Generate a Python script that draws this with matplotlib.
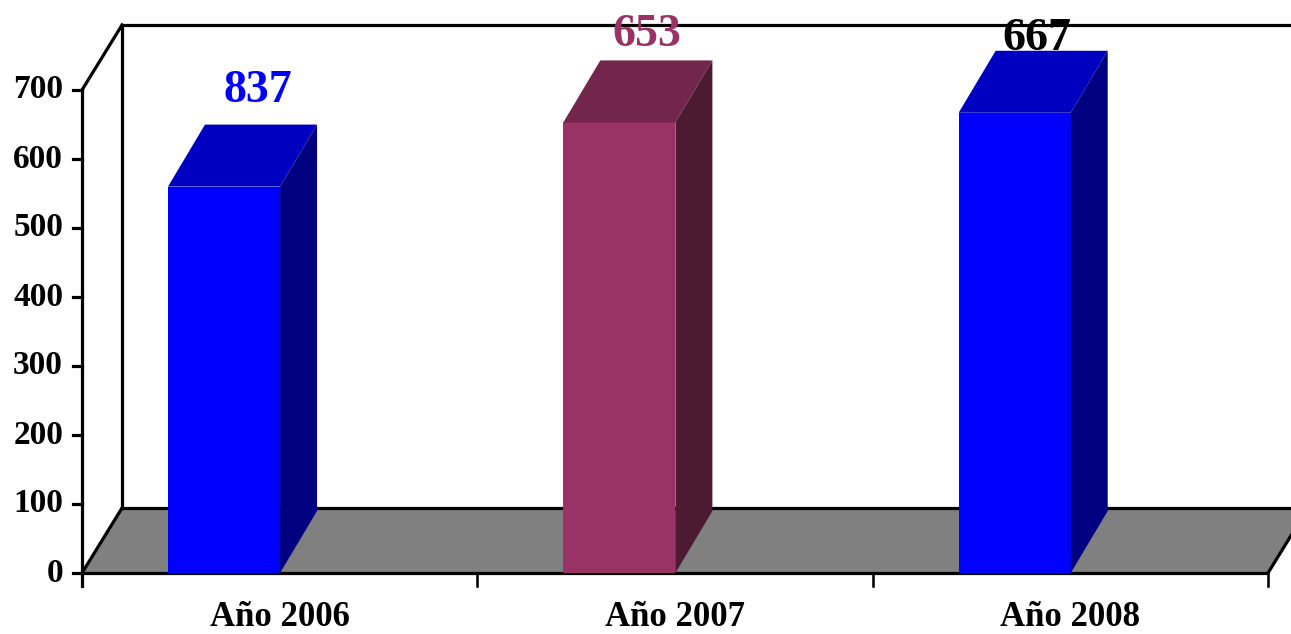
import matplotlib
matplotlib.use("Agg")
import matplotlib.pyplot as plt
from matplotlib.patches import Polygon

# ---- data ----
categories = ["Año 2006", "Año 2007", "Año 2008"]
values = [560, 653, 667]
value_labels = ["837", "653", "667"]
yticks = [0, 100, 200, 300, 400, 500, 600, 700]

# ---- styles ----
front_colors = ["#0000FF", "#993366", "#0000FF"]
top_colors = ["#0000C0", "#72264C", "#0000C0"]
side_colors = ["#000080", "#4C1A33", "#000080"]
label_colors = ["#0000FF", "#993366", "#000000"]
label_dx = [0.445, 0.429, 0.416]     # label x within category
label_y = [683, 764, 758]            # label baseline (data units)

FONT = "Liberation Serif"
W, H = 1291, 634
fig = plt.figure(figsize=(W / 100, H / 100), dpi=100)
ax = fig.add_axes([0, 0, 1, 1])
ax.set_axis_off()

px_x = 395.33   # pixels per category
px_y = 0.69     # pixels per value unit
ax.set_xlim(-82 / px_x, (W - 82) / px_x)
ax.set_ylim(-(H - 573) / px_y, 573 / px_y)

ymax = 700
ncat = len(categories)
fdx, fdy = 40 / px_x, 65 / px_y     # floor/wall depth
bdx, bdy = 37 / px_x, 62 / px_y     # bar depth
lw = 2.3

# floor
floor = Polygon([(0, 0), (ncat, 0), (ncat + fdx, fdy), (fdx, fdy)],
                closed=True, facecolor="#808080", edgecolor="none", zorder=1)
ax.add_patch(floor)
ax.plot([0, ncat], [0, 0], color="k", lw=lw, zorder=2, solid_capstyle="butt")
ax.plot([fdx, ncat + fdx], [fdy, fdy], color="k", lw=lw, zorder=2)
ax.plot([0, fdx], [0, fdy], color="k", lw=lw, zorder=2)
ax.plot([ncat, ncat + fdx], [0, fdy], color="k", lw=lw, zorder=2)

# walls
ax.plot([fdx, fdx], [fdy, ymax + fdy], color="k", lw=lw, zorder=2)
ax.plot([fdx, ncat + fdx], [ymax + fdy, ymax + fdy], color="k", lw=lw, zorder=2)
ax.plot([0, fdx], [ymax, ymax + fdy], color="k", lw=lw, zorder=2)

# y axis
ax.plot([0, 0], [-19, ymax], color="k", lw=lw, zorder=2)
for t in yticks:
    ax.plot([-9 / px_x, 0], [t, t], color="k", lw=lw, zorder=2)
    ax.text(-19 / px_x, t, str(t), ha="right", va="center", fontsize=24,
            fontweight="bold", family=FONT, color="k")

# x ticks
for i in range(ncat + 1):
    ax.plot([i, i], [0, -19], color="k", lw=lw * 0.8, zorder=2)
for i, c in enumerate(categories):
    ax.text(i + 0.5, -64, c, ha="center", va="center", fontsize=25,
            fontweight="bold", family=FONT, color="k")

# bars
x0f, x1f = 0.2175, 0.501
for i, v in enumerate(values):
    l, r = i + x0f, i + x1f
    ax.add_patch(Polygon([(l, 0), (r, 0), (r, v), (l, v)], closed=True,
                         facecolor=front_colors[i], edgecolor="none", zorder=5))
    ax.add_patch(Polygon([(l, v), (r, v), (r + bdx, v + bdy), (l + bdx, v + bdy)],
                         closed=True, facecolor=top_colors[i], edgecolor="none", zorder=5))
    ax.add_patch(Polygon([(r, 0), (r + bdx, bdy), (r + bdx, v + bdy), (r, v)],
                         closed=True, facecolor=side_colors[i], edgecolor="none", zorder=5))
    ax.text(i + label_dx[i], label_y[i], value_labels[i], ha="center", va="baseline",
            fontsize=33, fontweight="bold", family=FONT, color=label_colors[i], zorder=6)

fig.savefig("out.png", dpi=100)
